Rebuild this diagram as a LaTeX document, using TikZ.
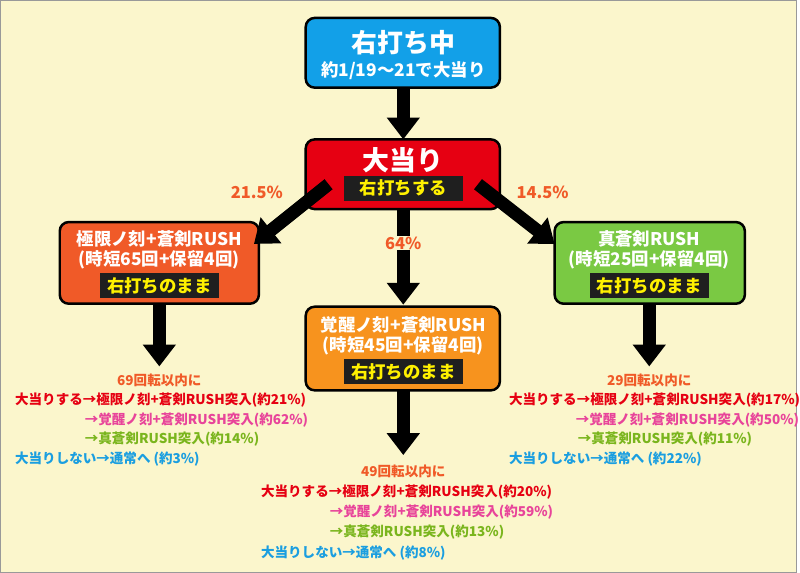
\documentclass[tikz,border=0pt]{standalone}
\usepackage{fontspec}
\setmainfont{Noto Sans CJK JP}
\usetikzlibrary{arrows.meta}
\definecolor{bg}{HTML}{FBF6CC}
\definecolor{cblue}{HTML}{12A0E8}
\definecolor{cred}{HTML}{E60012}
\definecolor{corr}{HTML}{F05A28}
\definecolor{cor}{HTML}{F7931E}
\definecolor{cgreen}{HTML}{7AC943}
\definecolor{tpink}{HTML}{E8449A}
\definecolor{tgreen}{HTML}{7AB51D}
\definecolor{tblue}{HTML}{1A9EE0}
\definecolor{tyel}{HTML}{FFF100}
\begin{document}
\begin{tikzpicture}[x=1pt,y=-1pt,font=\bfseries,
  box/.style={draw=black,line width=2.5pt,rounded corners=9pt,minimum width=#1,inner sep=0pt},
  bar/.style={fill=black!88,text=tyel,font=\bfseries\fontsize{17.5}{17.5}\selectfont,minimum width=120,minimum height=25,inner sep=0pt},
  wt/.style={text=white,font=\bfseries\fontsize{17.5}{17.5}\selectfont},
  arr/.style={line width=13pt,-{Triangle[width=32pt,length=22pt]}},
  pct/.style={text=corr,font=\bfseries\fontsize{16.5}{16.5}\selectfont},
  ln/.style={anchor=west,font=\bfseries\fontsize{13.6}{13.6}\selectfont,inner sep=0pt},
  ttl/.style={text=corr,font=\bfseries\fontsize{13.6}{13.6}\selectfont,inner sep=0pt}]
\fill[bg] (0,0) rectangle (800,575);
\draw[black!40,line width=1pt] (0.5,0.5) rectangle (799.5,574.5);
% boxes
\draw[box=0,fill=cblue] (307,18) rectangle (502,88);
\node[wt,font=\bfseries\fontsize{26}{26}\selectfont] (t1) at (405,43) {右打ち中};
\node[wt] (t2) at (405,71) {約1/19〜21で大当り};
\coordinate (topb) at (405,88);
\draw[box=0,fill=cred] (307,140) rectangle (502,210);
\node[wt,font=\bfseries\fontsize{27}{27}\selectfont] (h1) at (405,161) {大当り};
\node[bar] (h2) at (405,189) {右打ちする};
\coordinate (hT) at (405,140); \coordinate (hB) at (405,210);
\coordinate (hL) at (330,185); \coordinate (hR) at (480,185);
\draw[box=0,fill=corr] (60,223) rectangle (260,305);
\node[wt] (l1) at (160,240) {極限ノ刻+蒼剣RUSH};
\node[wt] (l2) at (160,261) {(時短65回+保留4回)};
\node[bar] (l3) at (160,287) {右打ちのまま};
\coordinate (lT) at (255,245); \coordinate (lB) at (160,305);
\draw[box=0,fill=cor] (307,308) rectangle (502,392);
\node[wt] (m1) at (405,326) {覚醒ノ刻+蒼剣RUSH};
\node[wt] (m2) at (405,347) {(時短45回+保留4回)};
\node[bar] (m3) at (405,373) {右打ちのまま};
\coordinate (mT) at (405,306); \coordinate (mB) at (405,392);
\draw[box=0,fill=cgreen] (557,223) rectangle (748,305);
\node[wt] (r1) at (652,240) {真蒼剣RUSH};
\node[wt] (r2) at (652,261) {(時短25回+保留4回)};
\node[bar] (r3) at (652,287) {右打ちのまま};
\coordinate (rT) at (557,245); \coordinate (rB) at (652,305);
% arrows
\draw[arr] (topb) -- (hT);
\draw[arr] (hL) -- (lT);
\draw[arr] (hR) -- (rT);
\draw[arr] (hB) -- (mT);
\coordinate (lE) at (160,368); \coordinate (rE) at (652,368); \coordinate (mE) at (405,457);
\draw[arr] (lB) -- (lE);
\draw[arr] (rB) -- (rE);
\draw[arr] (mB) -- (mE);
\node[pct] (p1) at (258,193) {21.5\%};
\node[pct] (p2) at (545,193) {14.5\%};
\node[pct,fill=bg,inner sep=1pt] (p3) at (405,244) {64\%};
% texts left
\node[ttl] (a0) at (160,382) {69回転以内に};
\node[ln,text=cred] (a1) at (15,402) {大当りする→極限ノ刻+蒼剣RUSH突入(約21\%)};
\node[ln,text=tpink] (a2) at (85,422) {→覚醒ノ刻+蒼剣RUSH突入(約62\%)};
\node[ln,text=tgreen] (a3) at (85,441) {→真蒼剣RUSH突入(約14\%)};
\node[ln,text=tblue] (a4) at (15,461) {大当りしない→通常へ (約3\%)};
% middle
\node[ttl] (b0) at (405,473) {49回転以内に};
\node[ln,text=cred] (b1) at (262,494) {大当りする→極限ノ刻+蒼剣RUSH突入(約20\%)};
\node[ln,text=tpink] (b2) at (331,514) {→覚醒ノ刻+蒼剣RUSH突入(約59\%)};
\node[ln,text=tgreen] (b3) at (331,534) {→真蒼剣RUSH突入(約13\%)};
\node[ln,text=tblue] (b4) at (262,555) {大当りしない→通常へ (約8\%)};
% right
\node[ttl] (c0) at (652,382) {29回転以内に};
\node[ln,text=cred] (c1) at (511,402) {大当りする→極限ノ刻+蒼剣RUSH突入(約17\%)};
\node[ln,text=tpink] (c2) at (578,422) {→覚醒ノ刻+蒼剣RUSH突入(約50\%)};
\node[ln,text=tgreen] (c3) at (580,441) {→真蒼剣RUSH突入(約11\%)};
\node[ln,text=tblue] (c4) at (511,461) {大当りしない→通常へ (約22\%)};
\end{tikzpicture}
\end{document}
